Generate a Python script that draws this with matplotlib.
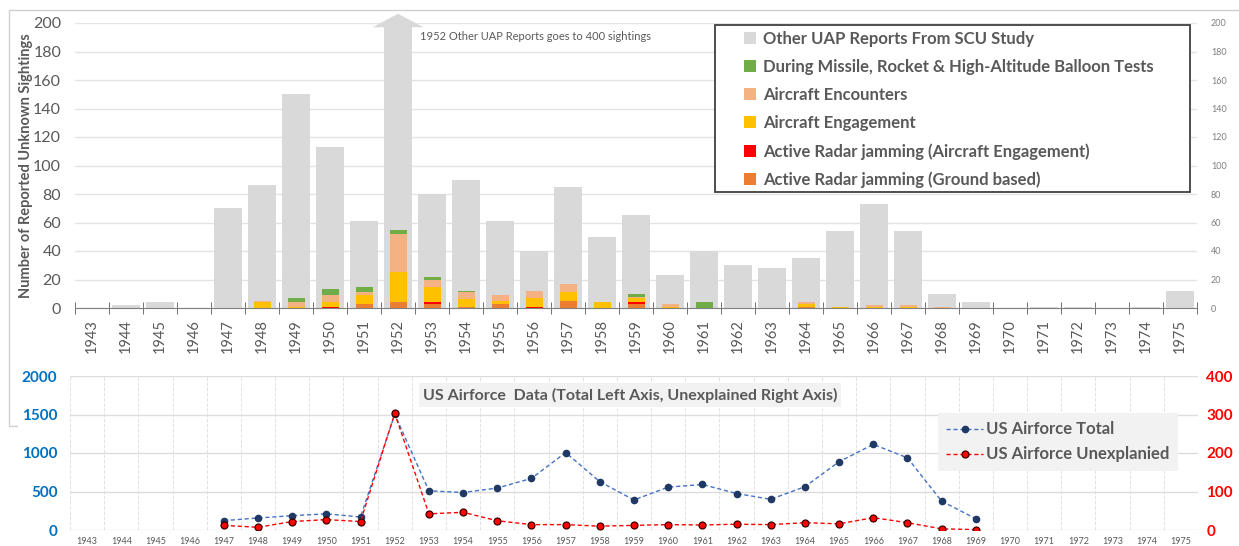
import numpy as np
import matplotlib
matplotlib.use("Agg")
import matplotlib.pyplot as plt
from matplotlib.patches import Rectangle, Polygon

plt.rcParams['font.family'] = ['Lato', 'DejaVu Sans']

# ---- data -------------------------------------------------------------
years = [str(y) for y in range(1943, 1976)]

other_uap = [0, 2, 4, 0, 70, 86, 150, 113, 61, 400, 80, 90, 61, 40, 85, 50, 65,
             23, 40, 30, 28, 35, 54, 73, 54, 10, 4, 0, 1, 1, 0, 1, 12]
radar_ground = [0, 0, 0, 0, 0, 0, 0, 0, 3, 4, 3, 1, 3, 0, 5, 0, 3,
                0, 0, 0, 0, 1, 0, 0, 0, 0, 0, 0, 0, 0, 0, 0, 0]
radar_aircraft = [0, 0, 0, 0, 0, 0, 0, 1, 0, 0, 1, 0, 0, 1, 0, 0, 1,
                  0, 0, 0, 0, 0, 0, 0, 0, 0, 0, 0, 0, 0, 0, 0, 0]
engagement = [0, 0, 0, 0, 0, 4, 1, 3, 6, 21, 11, 5, 2, 6, 6, 4, 3,
              1, 0, 0, 0, 2, 1, 1, 1, 0, 0, 0, 0, 0, 0, 0, 0]
encounters = [0, 0, 0, 0, 0, 1, 3, 5, 2, 27, 5, 5, 4, 5, 6, 0, 1,
              2, 0, 0, 0, 1, 0, 1, 1, 1, 0, 0, 0, 0, 0, 0, 0]
missile_tests = [0, 0, 0, 0, 0, 0, 3, 4, 4, 3, 2, 1, 0, 0, 0, 0, 2,
                 0, 4, 0, 0, 0, 0, 0, 0, 0, 0, 0, 0, 0, 0, 0, 0]

af_years = [str(y) for y in range(1947, 1970)]
af_total = [122, 156, 186, 210, 169, 1501, 509, 487, 545, 670, 1006, 627, 390,
            557, 591, 474, 399, 562, 887, 1112, 937, 375, 146]
af_unexplained = [12, 7, 22, 27, 22, 303, 42, 46, 24, 14, 14, 10, 12,
                  14, 13, 15, 14, 19, 16, 32, 19, 3, 1]

# ---- figure -----------------------------------------------------------
W, H = 1239, 546
fig = plt.figure(figsize=(W / 100, H / 100), dpi=100)
gray_txt = '#595959'

# frame of the upper chart (partly hidden by the lower one)
fig.add_artist(Rectangle((9 / W, 1 - 426 / H), 1.2, 416 / H, transform=fig.transFigure,
                         fill=False, edgecolor='#d0d0d0', lw=1, zorder=-2))
fig.add_artist(Rectangle((18 / W, 0), 1, 1 - 362 / H, transform=fig.transFigure,
                         facecolor='white', edgecolor='none', zorder=-1))

# ---- upper chart ------------------------------------------------------
ax = fig.add_axes([75 / W, 1 - 308 / H, 1122 / W, 285 / H])
ax.patch.set_alpha(0)
x = np.arange(len(years))
ax.bar(x, other_uap, width=0.8, color='#d9d9d9', zorder=2)

layers = [
    (radar_ground, '#ed7d31', 'Active Radar jamming (Ground based)'),
    (radar_aircraft, '#ff0000', 'Active Radar jamming (Aircraft Engagement)'),
    (engagement, '#ffc000', 'Aircraft Engagement'),
    (encounters, '#f4b183', 'Aircraft Encounters'),
    (missile_tests, '#70ad47', 'During Missile, Rocket & High-Altitude Balloon Tests'),
]
bottom = np.zeros(len(years))
handles = {}
for vals, col, lab in layers:
    v = np.array(vals, dtype=float)
    b = ax.bar(x, v, width=0.5, bottom=bottom, color=col, zorder=3)
    handles[lab] = b
    bottom += v

ax.set_xlim(-0.5, len(years) - 0.5)
ax.set_ylim(0, 200)
ax.set_yticks(range(0, 201, 20))
ax.grid(axis='y', color='#e4e4e4', lw=1, zorder=0)
ax.set_axisbelow(True)
for s in ['top', 'left', 'right']:
    ax.spines[s].set_visible(False)
ax.spines['bottom'].set_color('#7f7f7f')
ax.spines['bottom'].set_zorder(4)
ax.set_xticks(x)
ax.set_xticklabels(years, rotation=90, fontsize=10.5, color=gray_txt)
ax.set_xticks(np.arange(-0.5, len(years)), minor=True)
ax.tick_params(axis='x', which='major', length=0, pad=8)
ax.tick_params(axis='x', which='minor', length=8, direction='inout', color='#595959')
ax.tick_params(axis='y', length=0, labelsize=11.5, labelcolor=gray_txt, pad=10)
ax.set_ylabel('Number of Reported Unknown Sightings', fontsize=10.5, color=gray_txt,
              fontweight='bold', labelpad=0)

axr = ax.twinx()
axr.set_ylim(0, 200)
axr.set_yticks(range(0, 201, 20))
axr.tick_params(axis='y', length=0, labelsize=6.5, labelcolor='#7f7f7f', pad=10)
for s in axr.spines.values():
    s.set_visible(False)

# 1952 goes off the scale: arrow head above the bar
i52 = years.index('1952')
head = Polygon([[i52 - 0.75, 197], [i52 + 0.75, 197], [i52, 206.5]], closed=True,
               facecolor='#d9d9d9', edgecolor='none', clip_on=False, zorder=2)
ax.add_patch(head)
ax.text(i52 + 0.65, 190.5, '1952 Other UAP Reports goes to 400 sightings',
        fontsize=8, color=gray_txt, va='center', ha='left', zorder=5)

order = ['Other UAP Reports From SCU Study',
         'During Missile, Rocket & High-Altitude Balloon Tests',
         'Aircraft Encounters', 'Aircraft Engagement',
         'Active Radar jamming (Aircraft Engagement)',
         'Active Radar jamming (Ground based)']
gray_handle = Rectangle((0, 0), 1, 1, facecolor='#d9d9d9')
leg_handles = [gray_handle] + [handles[o] for o in order[1:]]
fig.add_artist(Rectangle((715 / W, 1 - 192 / H), 475 / W, 167 / H, transform=fig.transFigure,
                         facecolor='white', edgecolor='#404040', lw=1.3, zorder=5))
leg = fig.legend(leg_handles, order, loc='upper left', bbox_to_anchor=(744 / W, 1 - 31 / H),
                 fontsize=12, frameon=False, handlelength=0.7, handleheight=0.7,
                 handletextpad=0.45, labelspacing=0.72, borderpad=0, borderaxespad=0)
leg.set_zorder(6)
for t in leg.get_texts():
    t.set_color(gray_txt)
    t.set_fontweight('bold')

# ---- lower chart ------------------------------------------------------
ax2 = fig.add_axes([70 / W, 1 - 530 / H, 1128 / W, 154 / H])
ax2.set_xlim(-0.5, len(years) - 0.5)
ax2.set_ylim(0, 2000)
ax2.set_yticks(range(0, 2001, 500))
xi = [years.index(y) for y in af_years]
l1, = ax2.plot(xi, af_total, ls=(0, (3, 2)), lw=1, color='#4472c4', marker='o', ms=4.5,
               mfc='#1f3864', mec='#1f3864', zorder=4, label='US Airforce Total')
ax2.set_xticks(x)
ax2.set_xticklabels(years, fontsize=6.5, color=gray_txt)
ax2.set_xticks(np.arange(-0.5, len(years)), minor=True)
ax2.tick_params(axis='x', which='both', length=0, pad=5)
ax2.grid(axis='x', which='minor', color='#e2e2e2', ls='--', lw=0.7)
ax2.grid(axis='y', color='#dcdcdc', lw=1)
ax2.set_axisbelow(True)
for s in ax2.spines.values():
    s.set_visible(False)
ax2.tick_params(axis='y', length=0, labelsize=11, labelcolor='#0070c0', pad=9)
for t in ax2.get_yticklabels():
    t.set_fontweight('bold')

ax3 = ax2.twinx()
ax3.set_ylim(0, 400)
ax3.set_yticks(range(0, 401, 100))
l2, = ax3.plot(xi, af_unexplained, ls=(0, (3, 2)), lw=1, color='#ff0000', marker='o', ms=5,
               mfc='#ff0000', mec='#3a0000', mew=0.9, zorder=4,
               label='US Airforce Unexplanied')
for s in ax3.spines.values():
    s.set_visible(False)
ax3.tick_params(axis='y', length=0, labelsize=11, labelcolor='#ff0000', pad=6)
for t in ax3.get_yticklabels():
    t.set_fontweight('bold')

fig.text(630 / W, 1 - 395 / H, 'US Airforce  Data (Total Left Axis, Unexplained Right Axis)',
         fontsize=11.5, fontweight='bold', color=gray_txt, ha='center', va='center',
         bbox=dict(facecolor='#f2f2f2', edgecolor='none', pad=3))

leg2 = fig.legend([l1, l2], ['US Airforce Total', 'US Airforce Unexplanied'], loc='upper left',
                  bbox_to_anchor=(938 / W, 1 - 413 / H), fontsize=12, frameon=True,
                  fancybox=False, facecolor='#f2f2f2', edgecolor='none', framealpha=1,
                  handlelength=2.2, handletextpad=0.2, labelspacing=0.55,
                  borderpad=0.5, borderaxespad=0)
for t in leg2.get_texts():
    t.set_color(gray_txt)
    t.set_fontweight('bold')

fig.savefig('out.png', dpi=100)
